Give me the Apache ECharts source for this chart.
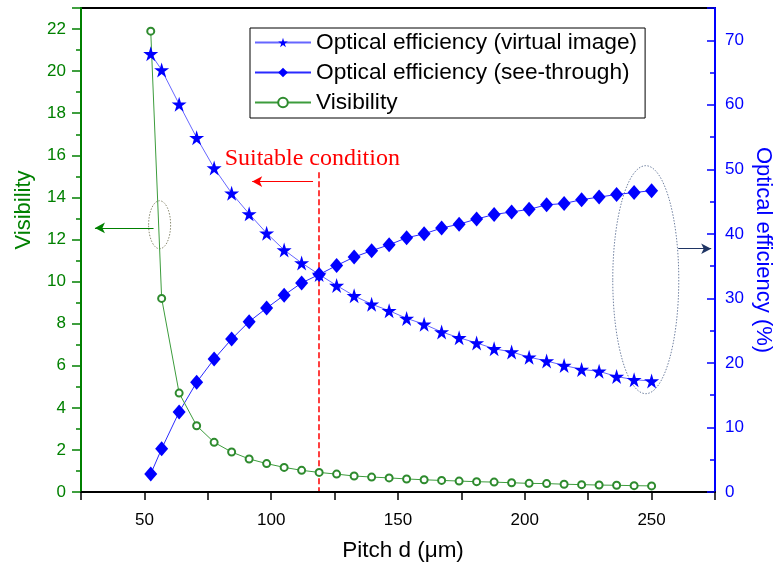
<!DOCTYPE html>
<html lang="en">
<head>
    <meta charset="UTF-8">
    <title>Optical efficiency and visibility vs pitch</title>
    <script src="https://cdn.jsdelivr.net/npm/echarts@6/dist/echarts.min.js"></script>
</head>
<body style="margin:0;background:#fff;">
    <div id="chart-container" style="width: 778px; height: 563px;"></div>
    <script>
    // pitch d (um)
    var pitch = [52.5, 56.8, 63.7, 70.6, 77.5, 84.4, 91.3, 98.2, 105.1, 112.0, 118.9,
        125.8, 132.7, 139.6, 146.5, 153.4, 160.3, 167.2, 174.1, 181.0, 187.9, 194.8,
        201.7, 208.6, 215.5, 222.4, 229.3, 236.2, 243.1, 250.0];
    // optical efficiency (%) - virtual image
    var effVirtual = [67.9, 65.4, 60.1, 54.9, 50.2, 46.3, 43.1, 40.1, 37.5, 35.5, 33.7,
        32.0, 30.4, 29.1, 28.1, 26.9, 26.0, 24.8, 23.9, 23.1, 22.2, 21.7,
        20.9, 20.3, 19.6, 19.0, 18.7, 17.9, 17.4, 17.2];
    // optical efficiency (%) - see-through
    var effSeeThrough = [2.8, 6.7, 12.4, 17.0, 20.6, 23.7, 26.4, 28.5, 30.5, 32.4, 33.7,
        35.1, 36.4, 37.4, 38.3, 39.4, 40.0, 40.9, 41.5, 42.3, 43.0, 43.4,
        43.8, 44.5, 44.7, 45.3, 45.7, 46.1, 46.4, 46.7];
    // visibility
    var visibility = [21.9, 9.2, 4.7, 3.15, 2.36, 1.9, 1.57, 1.35, 1.17, 1.03, 0.93,
        0.85, 0.76, 0.71, 0.67, 0.62, 0.58, 0.55, 0.52, 0.49, 0.47, 0.44,
        0.41, 0.40, 0.37, 0.35, 0.33, 0.32, 0.30, 0.29];
    var seriesNames = ['Optical efficiency (virtual image)', 'Optical efficiency (see-through)', 'Visibility'];

    var GREEN = '#008000';
    var BLUE = '#0000ff';
    var FONT = 'Liberation Sans, Arial, sans-serif';
    var STAR = 'path://M50,0 L61,35 L98,35 L68,57 L79,91 L50,70 L21,91 L32,57 L2,35 L39,35 Z';

    function pairs(xs, ys) {
        var out = [];
        for (var i = 0; i < xs.length; i++) out.push([xs[i], ys[i]]);
        return out;
    }

    var chart = echarts.init(document.getElementById('chart-container'));

    var option = {
        animation: false,
        grid: {
            left: 81, right: 63, top: 8, bottom: 71, outerBoundsMode: 'none',
            show: true, borderColor: '#000', borderWidth: 2
        },
        legend: {
            left: 250, top: 28, orient: 'vertical',
            itemWidth: 56, itemHeight: 12, itemGap: 7,
            padding: [3, 8, 4, 4],
            borderColor: '#000', borderWidth: 1,
            textStyle: { fontFamily: FONT, fontSize: 22.7, color: '#000' },
            data: seriesNames
        },
        xAxis: {
            type: 'value', min: 25, max: 275, interval: 25,
            name: 'Pitch d (\u03bcm)', nameLocation: 'middle', nameGap: 47, nameMoveOverlap: false,
            nameTextStyle: { fontFamily: FONT, fontSize: 22.5, color: '#000', padding: [0, 0, 0, 10] },
            axisLine: { lineStyle: { color: '#000', width: 2 } },
            axisTick: { show: true, length: 8, lineStyle: { color: '#000', width: 1.5 } },
            axisLabel: {
                fontFamily: FONT, fontSize: 17, color: '#000', margin: 20,
                formatter: function (v) { return v % 50 === 0 ? v : ''; }
            },
            splitLine: { show: false }
        },
        yAxis: [{
            type: 'value', min: 0, max: 23, interval: 2, position: 'left',
            name: 'Visibility', nameLocation: 'middle', nameGap: 46, nameMoveOverlap: false,
            nameTextStyle: { fontFamily: FONT, fontSize: 22, color: GREEN, padding: [0, 0, 0, 80] },
            axisLine: { show: true, lineStyle: { color: GREEN, width: 2 } },
            axisTick: { show: true, length: 9, lineStyle: { color: GREEN, width: 1.5 } },
            minorTick: { show: true, splitNumber: 2, length: 5, lineStyle: { color: GREEN, width: 1.5 } },
            axisLabel: { fontFamily: FONT, fontSize: 17, color: GREEN, margin: 15, showMaxLabel: false },
            splitLine: { show: false }
        }, {
            type: 'value', min: 0, max: 75, interval: 10, position: 'right',
            name: 'Optical efficiency (%)', nameLocation: 'middle', nameGap: 37, nameRotate: -90,
            nameMoveOverlap: false,
            nameTextStyle: { fontFamily: FONT, fontSize: 22, color: BLUE },
            axisLine: { show: true, lineStyle: { color: BLUE, width: 2 } },
            axisTick: { show: true, inside: true, length: 8, lineStyle: { color: BLUE, width: 1.5 } },
            minorTick: { show: true, splitNumber: 2, length: 5, lineStyle: { color: BLUE, width: 1.5 } },
            axisLabel: { fontFamily: FONT, fontSize: 17, color: BLUE, margin: 10, showMaxLabel: false },
            splitLine: { show: false }
        }],
        series: [{
            name: seriesNames[0], type: 'line', yAxisIndex: 1,
            data: pairs(pitch, effVirtual),
            symbol: STAR, symbolSize: 15,
            itemStyle: { color: BLUE },
            lineStyle: { color: '#6666ff', width: 1 },
            markLine: {
                silent: true, symbol: ['none', 'arrow'], symbolSize: [8, 10],
                label: { show: false },
                lineStyle: { color: '#1f3564', width: 1.2, type: 'solid' },
                data: [[{ coord: [260.5, 37.7] }, { coord: [273.5, 37.7] }]]
            }
        }, {
            name: seriesNames[1], type: 'line', yAxisIndex: 1,
            data: pairs(pitch, effSeeThrough),
            symbol: 'diamond', symbolSize: [13, 15],
            itemStyle: { color: BLUE },
            lineStyle: { color: '#2a2aff', width: 1 }
        }, {
            name: seriesNames[2], type: 'line', yAxisIndex: 0,
            data: pairs(pitch, visibility),
            symbol: 'emptyCircle', symbolSize: 7,
            itemStyle: { color: '#2e8b2e', borderWidth: 1 },
            lineStyle: { color: '#3c9c3c', width: 1 },
            markLine: {
                silent: true, symbol: ['none', 'arrow'], symbolSize: [8, 10],
                label: { show: false },
                data: [
                    [{ coord: [116.5, 14.75], lineStyle: { color: '#ff0000', width: 1, type: 'solid' } },
                     { coord: [92.5, 14.75] }],
                    [{ coord: [53.6, 12.55], lineStyle: { color: GREEN, width: 1.2, type: 'solid' } },
                     { coord: [30.5, 12.55] }]
                ]
            }
        }]
    };

    chart.setOption(option);

    // annotations placed from data coordinates
    var leftRef = { xAxisIndex: 0, yAxisIndex: 0 };
    var rightRef = { xAxisIndex: 0, yAxisIndex: 1 };
    var textPos = chart.convertToPixel(leftRef, [116.2, 15.85]);
    var dashTop = chart.convertToPixel(leftRef, [118.9, 15.2]);
    var dashBot = chart.convertToPixel(leftRef, [118.9, 0]);
    var ell1 = chart.convertToPixel(leftRef, [56.0, 12.7]);
    var ell2 = chart.convertToPixel(rightRef, [247.7, 32.9]);
    var dx = Math.round(dashTop[0]);

    chart.setOption({
        graphic: [{
            type: 'text', x: textPos[0], y: textPos[1], silent: true,
            style: {
                text: 'Suitable condition', fill: '#ff0000',
                font: '24px "Liberation Serif", "DejaVu Serif", serif',
                textAlign: 'center', textVerticalAlign: 'middle'
            }
        }, {
            type: 'line', silent: true,
            shape: { x1: dx, y1: dashTop[1], x2: dx, y2: dashBot[1] },
            style: { stroke: '#ff1010', lineWidth: 1.6, lineDash: [6, 3] }
        }, {
            type: 'ellipse', silent: true,
            shape: { cx: ell1[0], cy: ell1[1], rx: 11, ry: 24 },
            style: { fill: 'none', stroke: '#8a8a70', lineWidth: 1, lineDash: [1.5, 1.5] }
        }, {
            type: 'ellipse', silent: true,
            shape: { cx: ell2[0], cy: ell2[1], rx: 33, ry: 114 },
            style: { fill: 'none', stroke: '#7080a0', lineWidth: 1, lineDash: [1.5, 1.5] }
        }]
    });
    </script>
</body>
</html>
